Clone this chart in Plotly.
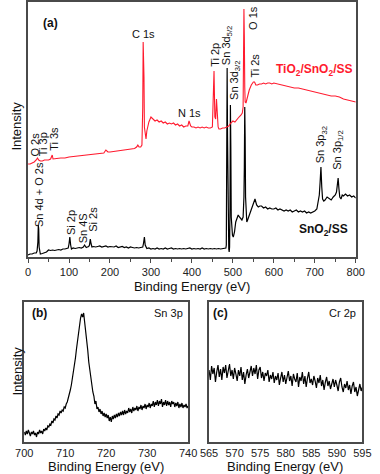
import numpy as np
import plotly.graph_objects as go

# ---------------- Panel (a): survey spectra ----------------
SN_E = [0, 5, 10, 15, 20, 22, 24, 25, 26, 27, 28, 30, 35, 40, 45, 50, 55, 60, 65, 70, 75, 80, 85, 90, 95,
        98, 100, 102, 104, 106, 110, 115, 120, 125, 130, 135, 138, 140, 142, 145, 148, 150, 152, 154, 156,
        160, 165, 170, 175, 180, 185, 190, 195, 200, 210, 215, 220, 225, 230, 235, 240, 245, 250, 255, 260,
        265, 270, 275, 280, 282, 284, 286, 288, 290, 295, 300, 305, 310, 315, 320, 325, 330, 335, 340, 345,
        350, 355, 360, 365, 370, 375, 380, 385, 390, 395, 400, 405, 410, 415, 420, 425, 430, 435, 440, 445,
        450, 455, 460, 465, 470, 475, 480, 483, 484, 485, 486, 487, 488, 489, 490, 491, 492, 493, 494, 495,
        496, 497, 499, 501, 504, 507, 510, 513, 516, 519, 522, 525, 527, 528, 529, 530, 531, 532, 534, 536,
        540, 545, 550, 554, 558, 562, 566, 570, 575, 580, 585, 590, 595, 600, 605, 610, 615, 620, 625, 630,
        635, 640, 645, 650, 655, 660, 665, 670, 675, 680, 685, 690, 695, 700, 705, 708, 711, 713, 715, 717,
        719, 722, 725, 730, 735, 740, 745, 750, 753, 755, 757, 759, 761, 764, 767, 770, 775, 780, 785, 790,
        795, 800]
SN_I = [2, 3, 3, 4, 4, 6, 15, 32, 28, 10, 4, 3, 3.5, 4.5, 5, 7, 6.5, 7, 6.5, 7, 7.5, 7, 8, 8, 8.5,
        9, 13, 20, 12, 8, 9, 8.5, 9, 9.5, 9, 10, 12, 11, 9.5, 10, 10.5, 12, 18, 13, 10,
        10.5, 10, 10.5, 11, 10, 10.5, 11, 10, 10.5, 10, 11, 9.5, 10, 10.5, 9.5, 10, 9, 10, 9.5, 9,
        9.5, 9, 9.5, 10, 14, 20, 12, 9, 8.5, 9, 8, 8.5, 8, 9, 8, 8.5, 8, 9, 8, 8.5,
        9, 8, 8.5, 8, 8.5, 8, 8.5, 8, 8.5, 9, 8, 8.5, 8, 8.5, 8, 9, 8, 8.5, 8, 8.5,
        8, 8.5, 8, 8.5, 8, 8.5, 8.5, 9, 12, 60, 189, 120, 30, 12, 8, 5, 10, 50, 152, 110,
        40, 25, 22, 20, 25, 35, 40, 42, 40, 38, 37, 40, 60, 90, 150, 120, 60, 40, 35, 37,
        42, 48, 55, 58, 52, 50, 51, 51, 49, 50, 48, 49, 48, 48, 49, 47, 48, 47, 46, 47,
        46, 47, 45, 46, 47, 45, 46, 45, 46, 44, 45, 44, 45, 46, 48, 55, 62, 75, 90, 70,
        58, 56, 57, 60, 58, 57, 60, 62, 65, 72, 79, 68, 60, 58, 62, 61, 63, 61, 62, 60,
        61, 59]

TI_E = [0, 5, 10, 15, 20, 23, 26, 30, 35, 40, 45, 50, 55, 57, 59, 61, 65, 70, 80, 90, 100, 110, 120, 130,
        140, 150, 160, 170, 180, 185, 190, 195, 200, 210, 220, 230, 240, 250, 260, 265, 268, 271, 275, 278,
        280, 281, 283, 284, 286, 288, 290, 295, 300, 305, 310, 315, 320, 325, 330, 335, 340, 345, 350, 355,
        360, 365, 370, 375, 380, 385, 390, 393, 395, 397, 400, 405, 410, 415, 420, 425, 430, 435, 440, 445,
        450, 452, 454, 456, 458, 460, 462, 464, 466, 470, 475, 480, 485, 490, 495, 500, 505, 510, 515, 520,
        523, 525, 526, 527, 528, 529, 530, 532, 535, 540, 545, 550, 553, 556, 560, 565, 570, 575, 580, 585,
        590, 595, 600, 610, 620, 630, 640, 650, 660, 670, 680, 690, 700, 710, 720, 730, 740, 750, 760, 770,
        780, 790, 800]
TI_I = [93, 93, 94, 95, 97, 99, 97, 96, 96, 97, 97, 97, 98, 101, 102, 98, 98, 98.5, 99, 99, 100, 100.5, 101, 101.5,
        102, 102, 102.5, 103, 103.5, 104, 107, 105, 105, 105.5, 106, 107, 107.5, 108, 108.5, 110, 112, 110, 110, 112,
        150, 215, 180, 130, 120, 118, 126, 135, 140, 138, 136, 137, 135, 136, 134, 135, 133, 134, 133, 134,
        132, 133, 131, 132, 130, 131, 131, 136, 134, 131, 130, 130, 129, 130, 129, 130, 129, 130, 129, 129,
        130, 150, 186, 140, 138, 158, 140, 130, 128, 128, 129, 129, 130, 131, 134, 136, 135, 138, 140, 142,
        144, 150, 200, 248, 220, 170, 155, 154, 160, 167, 172, 175, 175, 172, 172, 173, 173, 174, 173, 174,
        174, 173, 174, 173, 172, 171, 170, 169, 169, 168, 167, 166, 165, 164, 163, 162, 161, 161, 160, 158,
        157, 156, 155]

# ---------------- Panel (b): Sn 3p ----------------
B_E = np.arange(700, 740.001, 0.25)
B_I = [10, 7, 11, 8, 12, 9, 6, 10, 8, 11, 7, 9, 5, 10, 8, 12, 9, 11, 8, 13,
       11, 14, 12, 16, 15, 18, 17, 21, 19, 23, 22, 26, 24, 28, 27, 31, 29, 32, 31, 35,
       34, 38, 40, 44, 47, 52, 57, 63, 68, 76, 84, 93, 101, 110, 118, 124, 128, 125, 129, 121,
       112, 101, 92, 80, 72, 63, 58, 50, 46, 38, 41, 33, 35, 30, 33, 28, 31, 26, 29, 25,
       28, 24, 27, 21, 25, 20, 26, 23, 27, 24, 28, 25, 29, 26, 30, 27, 31, 27, 32, 28,
       31, 29, 34, 30, 33, 29, 35, 31, 34, 32, 36, 31, 35, 33, 37, 32, 36, 34, 38, 33,
       37, 35, 39, 34, 38, 36, 41, 35, 40, 37, 42, 36, 41, 38, 43, 35, 40, 37, 42, 36,
       41, 37, 40, 35, 41, 38, 40, 35, 39, 36, 40, 34, 38, 35, 39, 34, 37, 35, 38, 34,
       36]

# ---------------- Panel (c): Cr 2p ----------------
C_E = np.arange(565, 595.001, 0.25)
C_I = [72, 62, 76, 68, 74, 60, 70, 77, 65, 73, 62, 75, 69, 77, 64, 71, 78, 66, 72, 63,
       74, 68, 61, 72, 66, 75, 62, 70, 58, 67, 73, 64, 71, 76, 66, 74, 68, 77, 63, 72,
       75, 64, 70, 61, 69, 66, 72, 60, 67, 63, 70, 59, 66, 62, 69, 57, 64, 70, 60, 67,
       58, 65, 71, 61, 66, 56, 68, 63, 60, 69, 55, 65, 61, 70, 58, 66, 55, 64, 70, 59,
       63, 57, 66, 61, 54, 64, 59, 67, 56, 62, 52, 60, 65, 56, 61, 53, 59, 63, 55, 62,
       57, 51, 60, 64, 55, 50, 58, 54, 61, 52, 57, 48, 56, 60, 50, 55, 46, 54, 58, 51,
       55]

W, H = 380, 474
FONT = "Liberation Sans, Arial, sans-serif"
FRAME = "#4a4a4a"


def px(x):
    return x / W


def py(y):
    return 1 - y / H


fig = go.Figure()
fig.add_trace(go.Scatter(x=SN_E, y=SN_I, mode="lines", line=dict(color="black", width=1.2),
                         xaxis="x", yaxis="y", showlegend=False))
fig.add_trace(go.Scatter(x=TI_E, y=TI_I, mode="lines", line=dict(color="#ff1a2e", width=1.1),
                         xaxis="x", yaxis="y", showlegend=False))
fig.add_trace(go.Scatter(x=B_E, y=B_I, mode="lines", line=dict(color="black", width=1.2),
                         xaxis="x2", yaxis="y2", showlegend=False))
fig.add_trace(go.Scatter(x=C_E, y=C_I, mode="lines", line=dict(color="black", width=1.2),
                         xaxis="x3", yaxis="y3", showlegend=False))

axis_common = dict(showline=True, mirror=True, linecolor=FRAME, linewidth=1.5, showgrid=False,
                   zeroline=False, tickfont=dict(family=FONT, size=11, color="#222"))

fig.update_layout(
    width=W, height=H, margin=dict(l=0, r=0, t=0, b=0),
    paper_bgcolor="white", plot_bgcolor="white",
    xaxis=dict(domain=[px(20), px(364)], range=[0, 800], anchor="y", tickmode="linear", tick0=0, dtick=100,
               ticks="outside", ticklen=4, tickcolor=FRAME,
               minor=dict(ticks="outside", ticklen=3, dtick=50, tickcolor=FRAME), **axis_common),
    yaxis=dict(domain=[py(257), py(2)], range=[0, 255], anchor="x", showticklabels=False, ticks="",
               **axis_common),
    xaxis2=dict(domain=[px(16), px(188)], range=[700, 740], anchor="y2", tickmode="linear", tick0=700,
                dtick=10, ticks="", **axis_common),
    yaxis2=dict(domain=[py(442), py(302)], range=[0, 140], anchor="x2", showticklabels=False, ticks="",
                **axis_common),
    xaxis3=dict(domain=[px(210), px(371)], range=[565, 595], anchor="y3", tickmode="linear", tick0=565,
                dtick=5, ticks="", **axis_common),
    yaxis3=dict(domain=[py(442), py(302)], range=[0, 140], anchor="x3", showticklabels=False, ticks="",
                **axis_common),
)

ann = []


def paper_text(text, x, y, size=12, bold=False, angle=0, color="#111"):
    t = f"<b>{text}</b>" if bold else text
    ann.append(dict(text=t, x=px(x), y=py(y), xref="paper", yref="paper", showarrow=False,
                    xanchor="center", yanchor="middle", textangle=angle,
                    font=dict(family=FONT, size=size, color=color)))


def data_text(text, x, y, size=11, bold=False, angle=-90, color="#111"):
    t = f"<b>{text}</b>" if bold else text
    ann.append(dict(text=t, x=x, y=y, xref="x", yref="y", showarrow=False,
                    xanchor="center", yanchor="middle", textangle=angle,
                    font=dict(family=FONT, size=size, color=color)))


# axis titles
paper_text("Binding Energy (eV)", 192, 286, size=13)
paper_text("Binding Energy (eV)", 102, 466, size=13)
paper_text("Binding Energy (eV)", 290, 466, size=13)
paper_text("Intensity", 8, 126, size=13, angle=-90)
paper_text("Intensity", 8, 371, size=13, angle=-90)

# panel labels
paper_text("(a)", 44, 23, size=12, bold=True)
paper_text("(b)", 32, 313, size=12, bold=True)
paper_text("Sn 3p", 167, 313, size=11)
paper_text("(c)", 222, 313, size=12, bold=True)
paper_text("Cr 2p", 350, 313, size=11)

# peak labels (panel a, data coordinates)
data_text("C 1s", 283, 223, angle=0)
data_text("N 1s", 395, 144, angle=0)
data_text("Ti 2p", 456, 202)
data_text("Sn 3d<sub>5/2</sub>", 486, 211)
data_text("Sn 3d<sub>3/2</sub>", 505, 177)
data_text("O 1s", 549, 239)
data_text("Ti 2s", 553, 191)
data_text("O 2s", 16, 112)
data_text("Ti 3p", 37, 113)
data_text("Ti 3s", 63, 118)
data_text("Sn 4d + O 2s", 27, 62)
data_text("Si 2p", 105, 34)
data_text("Sn 4S", 135, 29)
data_text("Si 2s", 158, 38)
data_text("Sn 3p<sub>32</sub>", 716, 112)
data_text("Sn 3p<sub>1/2</sub>", 756, 107)
data_text("TiO<sub>2</sub>/SnO<sub>2</sub>/SS", 698, 187, size=12, bold=True, angle=0, color="#ff1a2e")
data_text("SnO<sub>2</sub>/SS", 721, 27, size=12, bold=True, angle=0)

fig.update_layout(annotations=ann)
fig.write_html("out.html", config={"displayModeBar": False},
               post_script="document.body.style.margin='0';document.body.style.padding='0';")
